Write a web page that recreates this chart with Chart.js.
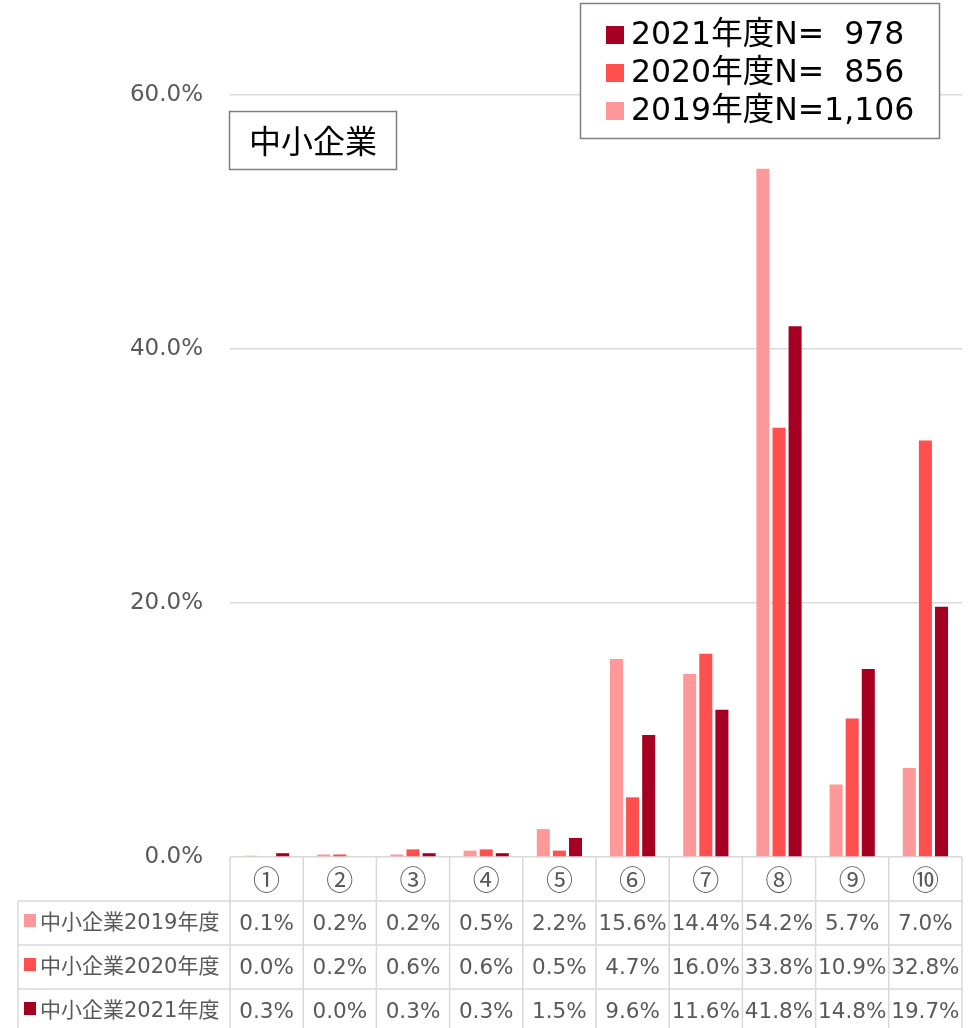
<!DOCTYPE html>
<html><head><meta charset="utf-8">
<script src="https://cdn.jsdelivr.net/npm/chart.js@4"></script>
<style>html,body{margin:0;padding:0;background:#fff;}canvas{display:block;}</style>
</head><body>
<canvas id="c" width="969" height="1028"></canvas>
<script>
const categories = ['①','②','③','④','⑤','⑥','⑦','⑧','⑨','⑩'];
const seriesNames = ['中小企業2019年度','中小企業2020年度','中小企業2021年度'];
const legendLabels = ['2021年度N=  978','2020年度N=  856','2019年度N=1,106'];
const values2019 = [0.1,0.2,0.2,0.5,2.2,15.6,14.4,54.2,5.7,7.0];
const values2020 = [0.0,0.2,0.6,0.6,0.5,4.7,16.0,33.8,10.9,32.8];
const values2021 = [0.3,0.0,0.3,0.3,1.5,9.6,11.6,41.8,14.8,19.7];
const yTicks = [0,20,40,60];
const titleText = '中小企業';

const colors = ['#FF9999','#FF4F4F','#A50021'];
const FONT = "'DejaVu Sans','Noto Sans CJK JP',sans-serif";
const CJK = "'Noto Sans CJK JP','DejaVu Sans',sans-serif";

const tablePlugin = {
  id:'tablePlugin',
  afterDraw(chart){
    const ctx = chart.ctx, x = chart.scales.x, area = chart.chartArea;
    const n = categories.length;
    const step = (area.right-area.left)/n;
    const rowTop = area.bottom, rowH = 44;
    const leftX = 18, bottomY = 1028;
    ctx.save();
    ctx.strokeStyle = '#d9d9d9'; ctx.lineWidth = 1.5;
    for (let r=1;r<=3;r++){
      const y = rowTop + r*rowH;
      ctx.beginPath(); ctx.moveTo(leftX,y); ctx.lineTo(area.right,y); ctx.stroke();
    }
    for (let i=0;i<=n;i++){
      const xx = (i<n ? x.getPixelForValue(i)-step/2 : x.getPixelForValue(n-1)+step/2);
      ctx.beginPath(); ctx.moveTo(xx,rowTop); ctx.lineTo(xx,bottomY); ctx.stroke();
    }
    ctx.beginPath(); ctx.moveTo(leftX,rowTop+rowH); ctx.lineTo(leftX,bottomY); ctx.stroke();
    ctx.fillStyle = '#595959'; ctx.textAlign='center'; ctx.textBaseline='middle';
    ctx.font = "27px " + CJK;
    categories.forEach((c,i)=>ctx.fillText(c, x.getPixelForValue(i), rowTop+rowH/2+1));
    const data = [values2019, values2020, values2021];
    data.forEach((arr,r)=>{
      const cy = rowTop + (r+1)*rowH + rowH/2 + 1;
      ctx.fillStyle = colors[r];
      ctx.fillRect(24, cy-10, 12, 13);
      ctx.fillStyle = '#595959';
      ctx.textAlign='left';
      ctx.font = "21px " + FONT;
      ctx.fillText(seriesNames[r], 40, cy);
      ctx.textAlign='center';
      ctx.font = "21.5px " + FONT;
      arr.forEach((v,i)=>ctx.fillText(v.toFixed(1)+'%', x.getPixelForValue(i), cy));
    });
    ctx.strokeStyle = '#7f7f7f'; ctx.lineWidth = 1.5;
    ctx.fillStyle='#fff';
    ctx.fillRect(229.5,111.5,167,58);
    ctx.strokeRect(229.5,111.5,167,58);
    ctx.fillStyle='#000'; ctx.font = "32px " + CJK; ctx.textAlign='center';
    ctx.fillText(titleText, 313, 141);
    ctx.fillStyle='#fff';
    ctx.fillRect(580.5,3.5,359,135);
    ctx.strokeStyle = '#7f7f7f';
    ctx.strokeRect(580.5,3.5,359,135);
    const legColors = [colors[2],colors[1],colors[0]];
    legendLabels.forEach((t,i)=>{
      const cy = 35 + i*38;
      ctx.fillStyle = legColors[i];
      ctx.fillRect(606, cy-9, 18, 18);
      ctx.fillStyle = '#000'; ctx.textAlign='left';
      ctx.font = "31.5px " + FONT;
      ctx.fillText(t, 631, cy+1);
    });
    ctx.restore();
  }
};

new Chart(document.getElementById('c'), {
  type:'bar',
  data:{
    labels: categories,
    datasets:[
      {label:seriesNames[0], data:values2019, backgroundColor:colors[0]},
      {label:seriesNames[1], data:values2020, backgroundColor:colors[1]},
      {label:seriesNames[2], data:values2021, backgroundColor:colors[2]}
    ]
  },
  options:{
    responsive:false, animation:false, devicePixelRatio:1,
    layout:{padding:{top:95,right:7,bottom:163,left:0}},
    plugins:{legend:{display:false}, tooltip:{enabled:false}},
    datasets:{bar:{categoryPercentage:0.66, barPercentage:0.81}},
    scales:{
      x:{grid:{display:false}, border:{display:false}, ticks:{display:false}},
      y:{
        min:0, max:60,
        afterFit(s){ s.width = 230; },
        afterBuildTicks(s){ s.ticks = yTicks.map(v=>({value:v})); },
        grid:{color:'#d9d9d9', lineWidth:1.5, drawTicks:false},
        border:{display:false},
        ticks:{padding:27, color:'#595959', font:{family:FONT, size:23}, callback:v=>v.toFixed(1)+'%'}
      }
    }
  },
  plugins:[tablePlugin]
});
</script>
</body></html>
